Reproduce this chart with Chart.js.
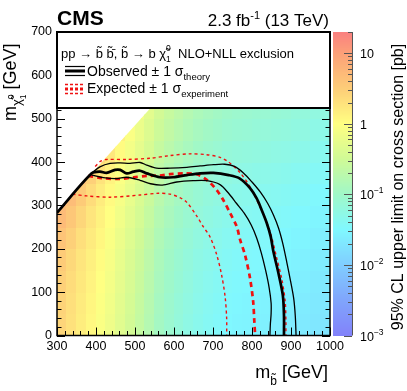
<!DOCTYPE html>
<html>
<head>
<meta charset="utf-8">
<script src="https://cdn.jsdelivr.net/npm/chart.js@4.4.0/dist/chart.umd.min.js"></script>
<style>
  html, body { margin: 0; padding: 0; background: #fff; }
  #wrap { width: 407px; height: 391px; }
</style>
</head>
<body>
<div id="wrap"><canvas id="limits" width="407" height="391"></canvas></div>
<script>
const FONT = '"Liberation Sans", Arial, Helvetica, sans-serif';

// bin edges of the limit map [GeV]
const mSbottomEdges = [300,325,350,375,400,425,450,475,500,525,550,575,600,625,650,675,700,725,750,775,800,825,850,875,900,925,950,975,1000];
const mLspEdges = [0,50,100,150,200,250,300,350,400,450,500,550];

// log10 of the 95% CL upper limit on the cross section [pb], one row per LSP bin (bottom first)
const limitLog10 = [
  [0.42,0.30,0.18,0.07,-0.05,-0.17,-0.32,-0.47,-0.62,-0.78,-0.95,-1.07,-1.17,-1.26,-1.34,-1.40,-1.45,-1.50,-1.53,-1.55,-1.57,-1.58,-1.60,-1.62,-1.65,-1.66,-1.70,-1.72],
  [0.44,0.32,0.20,0.09,-0.03,-0.15,-0.30,-0.45,-0.60,-0.76,-0.93,-1.05,-1.15,-1.24,-1.32,-1.38,-1.43,-1.48,-1.51,-1.53,-1.55,-1.56,-1.58,-1.60,-1.63,-1.64,-1.68,-1.70],
  [0.47,0.35,0.23,0.12,0.00,-0.12,-0.27,-0.42,-0.57,-0.73,-0.90,-1.02,-1.12,-1.21,-1.29,-1.35,-1.40,-1.45,-1.48,-1.50,-1.52,-1.53,-1.55,-1.57,-1.60,-1.61,-1.65,-1.67],
  [0.52,0.39,0.26,0.15,0.03,-0.09,-0.24,-0.39,-0.54,-0.70,-0.87,-0.99,-1.09,-1.18,-1.26,-1.32,-1.37,-1.42,-1.45,-1.47,-1.49,-1.50,-1.52,-1.54,-1.57,-1.58,-1.62,-1.64],
  [0.60,0.47,0.32,0.20,0.08,-0.05,-0.20,-0.35,-0.50,-0.66,-0.83,-0.95,-1.05,-1.14,-1.22,-1.28,-1.33,-1.38,-1.41,-1.43,-1.45,-1.46,-1.48,-1.50,-1.53,-1.54,-1.58,-1.60],
  [0.70,0.57,0.41,0.26,0.13,0.00,-0.15,-0.30,-0.45,-0.61,-0.78,-0.90,-1.00,-1.09,-1.17,-1.23,-1.28,-1.33,-1.36,-1.38,-1.40,-1.41,-1.43,-1.45,-1.48,-1.49,-1.53,-1.55],
  [0.75,0.68,0.52,0.35,0.19,0.05,-0.10,-0.25,-0.40,-0.56,-0.73,-0.85,-0.95,-1.04,-1.12,-1.18,-1.23,-1.28,-1.31,-1.33,-1.35,-1.36,-1.38,-1.40,-1.43,-1.44,-1.48,-1.50],
  [0.80,0.75,0.65,0.47,0.28,0.12,-0.04,-0.19,-0.34,-0.50,-0.67,-0.79,-0.89,-0.98,-1.06,-1.12,-1.17,-1.22,-1.25,-1.27,-1.29,-1.30,-1.32,-1.34,-1.37,-1.38,-1.42,-1.44],
  [0.80,0.80,0.70,0.58,0.40,0.23,0.04,-0.12,-0.27,-0.43,-0.60,-0.72,-0.82,-0.91,-0.99,-1.05,-1.10,-1.15,-1.18,-1.20,-1.22,-1.23,-1.25,-1.27,-1.30,-1.31,-1.35,-1.37],
  [0.80,0.80,0.70,0.62,0.50,0.34,0.14,-0.04,-0.20,-0.36,-0.53,-0.65,-0.75,-0.84,-0.92,-0.98,-1.03,-1.08,-1.11,-1.13,-1.15,-1.16,-1.18,-1.20,-1.23,-1.24,-1.28,-1.30],
  [0.80,0.80,0.70,0.62,0.55,0.44,0.24,0.05,-0.13,-0.30,-0.47,-0.59,-0.69,-0.78,-0.86,-0.92,-0.97,-1.02,-1.05,-1.07,-1.09,-1.10,-1.12,-1.14,-1.17,-1.18,-1.22,-1.24]
];
// map is only filled below m(LSP) = m(sbottom) - diagGap
const diagGap = 15;

// exclusion contours [m(sbottom), m(LSP)] in GeV
const observed = [[300,283],[389,374],[410,378],[427,375],[449,382],[462,382],[479,374],[496,378],[513,380],[530,374],[564,365],[598,365],[633,370],[667,374],[701,375],[740,370],[769,362],[795,340],[812,316],[825,289],[838,259],[848,228],[855,193],[867,147],[879,93],[882,47],[882,0]];
const observedUp = [[389,375],[410,389],[436,397],[462,398],[487,397],[513,399],[530,393],[555,386],[590,386],[633,388],[667,391],[701,394],[730,395],[755,390],[778,375],[800,354],[822,330],[840,305],[855,278],[868,248],[879,212],[889,170],[899,125],[907,85],[911,45],[913,0]];
const observedDown = [[389,370],[419,364],[453,362],[479,365],[513,358],[540,350],[570,347],[607,354],[649,357],[684,357],[718,348],[740,328],[760,305],[780,282],[798,255],[812,225],[824,190],[835,150],[844,110],[849,75],[849,50],[847,25],[846,0]];
const expected = [[380,368],[415,363],[462,361],[496,365],[530,368],[564,369],[590,372],[624,374],[658,372],[684,359],[709,336],[726,313],[744,282],[761,251],[769,222],[782,186],[795,132],[803,78],[806,32],[808,0]];
const expectedUp = [[398,390],[412,402],[427,406],[479,406],[540,409],[590,415],[641,419],[684,417],[718,411],[740,400],[769,376],[795,343],[816,305],[833,272],[850,228],[863,180],[876,132],[885,80],[887,32],[887,0]];
const expectedDown = [[340,326],[376,322],[436,319],[513,324],[560,328],[590,326],[615,318],[633,307],[658,276],[675,251],[692,228],[709,188],[722,140],[731,90],[735,40],[735,0]];

// colour bar decades
const zDecades = [0.001, 0.01, 0.1, 1, 10];
const zLabels = [['10','-3'],['10','-2'],['10','-1'],['1',''],['10','']];

// pastel rainbow palette, stops in log10(pb)
const palette = [
  [-3.0, [130,130,250]],
  [-2.5, [128,165,252]],
  [-2.0, [128,205,255]],
  [-1.5, [128,248,255]],
  [-1.0, [160,248,200]],
  [-0.5, [208,250,150]],
  [ 0.0, [255,255,130]],
  [ 0.5, [253,205,120]],
  [ 1.0, [252,160,120]],
  [ 1.3, [250,128,128]]
];
function colorFor(d) {
  if (d <= palette[0][0]) return `rgb(${palette[0][1]})`;
  for (let i = 1; i < palette.length; i++) {
    if (d <= palette[i][0]) {
      const [d0, c0] = palette[i - 1], [d1, c1] = palette[i];
      const f = (d - d0) / (d1 - d0);
      return `rgb(${c0.map((v, k) => Math.round(v + f * (c1[k] - v))).join(',')})`;
    }
  }
  return `rgb(${palette[palette.length - 1][1]})`;
}

// text with sub/superscripts: [text, size, dy, stackOnPrevious, bold]
function drawRich(ctx, x, y, parts, align) {
  let cx = 0, lastStart = 0, lastEnd = 0;
  const items = [];
  for (const p of parts) {
    const [t, size, dy = 0, stack = false, bold = false] = p;
    const font = `${bold ? 'bold ' : ''}${size}px ${FONT}`;
    ctx.font = font;
    const w = ctx.measureText(t).width;
    const start = stack ? lastStart : cx;
    items.push({ t, font, x: start, dy });
    cx = stack ? Math.max(lastEnd, start + w) : start + w;
    lastStart = start; lastEnd = cx;
  }
  const x0 = align === 'right' ? x - cx : align === 'center' ? x - cx / 2 : x;
  ctx.textAlign = 'left';
  ctx.textBaseline = 'alphabetic';
  for (const it of items) {
    ctx.font = it.font;
    ctx.fillText(it.t, x0 + it.x, y + it.dy);
  }
}

const heatmapPlugin = {
  id: 'heatmap',
  beforeDatasetsDraw(chart) {
    const { ctx, chartArea: a, scales: { x, y, z } } = chart;
    ctx.save();
    ctx.beginPath();
    ctx.rect(a.left, a.top, a.width, a.height);
    ctx.clip();
    ctx.beginPath();
    ctx.moveTo(x.getPixelForValue(300), y.getPixelForValue(300 - diagGap));
    ctx.lineTo(x.getPixelForValue(1000), y.getPixelForValue(1000 - diagGap));
    ctx.lineTo(x.getPixelForValue(1000), y.getPixelForValue(0));
    ctx.lineTo(x.getPixelForValue(300), y.getPixelForValue(0));
    ctx.closePath();
    ctx.clip();
    limitLog10.forEach((row, r) => {
      const yTop = Math.floor(y.getPixelForValue(mLspEdges[r + 1]));
      const yBot = Math.ceil(y.getPixelForValue(mLspEdges[r]));
      row.forEach((d, c) => {
        const xl = Math.floor(x.getPixelForValue(mSbottomEdges[c]));
        const xr = Math.ceil(x.getPixelForValue(mSbottomEdges[c + 1]));
        ctx.fillStyle = colorFor(d);
        ctx.fillRect(xl, yTop, xr - xl, yBot - yTop);
      });
    });
    ctx.restore();

    // colour bar
    const barL = 333, barR = 352;
    ctx.save();
    for (let py = Math.floor(z.top); py < Math.ceil(z.bottom); py++) {
      const v = z.getValueForPixel(py + 0.5);
      ctx.fillStyle = colorFor(Math.log10(v));
      ctx.fillRect(barL, py, barR - barL, 1);
    }
    ctx.strokeStyle = '#555';
    ctx.lineWidth = 1;
    ctx.beginPath();
    ctx.moveTo(barR + 0.5, z.top); ctx.lineTo(barR + 0.5, z.bottom);
    zDecades.forEach(dec => {
      for (let m = 1; m <= 9; m++) {
        const v = dec * m;
        if (v > z.max) break;
        const py = Math.round(z.getPixelForValue(v)) + 0.5;
        ctx.moveTo(barR, py); ctx.lineTo(barR - (m === 1 ? 8 : 4), py);
      }
    });
    ctx.stroke();
    ctx.fillStyle = '#000';
    zDecades.forEach((dec, i) => {
      const py = z.getPixelForValue(dec);
      const [base, exp] = zLabels[i];
      const parts = [[base, 12.5]];
      if (exp) parts.push([exp.replace('-', '\u2212'), 8.5, -6]);
      drawRich(ctx, 360, py + 5, parts, 'left');
    });
    ctx.restore();
  }
};

const framePlugin = {
  id: 'frame',
  afterDatasetsDraw(chart) {
    const { ctx, chartArea: a, scales: { x, y } } = chart;
    ctx.save();
    ctx.strokeStyle = '#000';
    ctx.lineWidth = 1;
    ctx.beginPath();
    for (let v = 300; v <= 1000; v += 20) {
      const px = Math.round(x.getPixelForValue(v)) + 0.5;
      const len = v % 100 === 0 ? 8 : 4.5;
      ctx.moveTo(px, a.bottom); ctx.lineTo(px, a.bottom - len);
      ctx.moveTo(px, a.top); ctx.lineTo(px, a.top + len);
    }
    for (let v = 0; v <= 700; v += 20) {
      const py = Math.round(y.getPixelForValue(v)) + 0.5;
      const len = v % 100 === 0 ? 8 : 4.5;
      ctx.moveTo(a.left, py); ctx.lineTo(a.left + len, py);
      ctx.moveTo(a.right, py); ctx.lineTo(a.right - len, py);
    }
    ctx.stroke();
    ctx.lineWidth = 1.5;
    ctx.strokeRect(a.left, a.top, a.right - a.left, a.bottom - a.top);
    ctx.restore();
  },
  afterDraw(chart) {
    const { ctx, chartArea: a } = chart;
    ctx.save();
    // legend box
    const lgBottom = 108;
    ctx.fillStyle = '#fff';
    ctx.fillRect(a.left, a.top, a.right - a.left, lgBottom - a.top);
    ctx.strokeStyle = '#000';
    ctx.lineWidth = 2;
    ctx.strokeRect(a.left, a.top, a.right - a.left, lgBottom - a.top);

    ctx.fillStyle = '#000';
    drawRich(ctx, 61, 58, [
      ['pp \u2192 b\u0303 b\u0303\u0304, b\u0303 \u2192 b \u03c7\u0303', 13],
      ['1', 8.5, 4], ['0', 8.5, -7, true],
      ['  NLO+NLL exclusion', 13]
    ], 'left');

    // observed symbol
    ctx.strokeStyle = '#000';
    ctx.setLineDash([]);
    [[66.5, 1.2], [71, 3], [75.5, 1.2]].forEach(([yy, w]) => {
      ctx.lineWidth = w;
      ctx.beginPath(); ctx.moveTo(65, yy); ctx.lineTo(85, yy); ctx.stroke();
    });
    drawRich(ctx, 87, 76, [['Observed \u00b1 1 \u03c3', 14], ['theory', 9.5, 4]], 'left');

    // expected symbol
    ctx.strokeStyle = '#f01010';
    [[84.5, 1.5, [3, 2]], [89, 3, [3, 2]], [93.5, 1.5, [3, 2]]].forEach(([yy, w, dash]) => {
      ctx.lineWidth = w;
      ctx.setLineDash(dash);
      ctx.beginPath(); ctx.moveTo(65, yy); ctx.lineTo(85, yy); ctx.stroke();
    });
    ctx.setLineDash([]);
    ctx.fillStyle = '#000';
    drawRich(ctx, 87, 93, [['Expected \u00b1 1 \u03c3', 14], ['experiment', 9.5, 4]], 'left');

    // titles
    drawRich(ctx, 57, 25, [['CMS', 21, 0, false, true]], 'left');
    drawRich(ctx, 329, 26, [['2.3 fb', 17], ['-1', 11, -7], [' (13 TeV)', 17]], 'right');

    // x axis title
    drawRich(ctx, 328, 378, [['m', 18], ['b\u0303', 12, 7], [' [GeV]', 18]], 'right');

    // y axis title
    ctx.save();
    ctx.translate(16, 121);
    ctx.rotate(-Math.PI / 2);
    drawRich(ctx, 0, 0, [['m', 18], ['\u03c7\u0303', 13, 5], ['1', 8.5, 10], ['0', 8.5, -2, true], [' [GeV]', 18]], 'left');
    ctx.restore();

    // colour bar title
    ctx.save();
    ctx.translate(403, 187);
    ctx.rotate(-Math.PI / 2);
    drawRich(ctx, 0, 0, [['95% CL upper limit on cross section [pb]', 16]], 'center');
    ctx.restore();
    ctx.restore();
  }
};

const toXY = pts => pts.map(([x, y]) => ({ x, y }));
const lineSet = (data, color, width, dash) => ({
  data: toXY(data),
  showLine: true,
  borderColor: color,
  borderWidth: width,
  borderDash: dash,
  pointRadius: 0,
  tension: 0.3,
  fill: false
});

new Chart(document.getElementById('limits'), {
  type: 'scatter',
  data: {
    datasets: [
      lineSet(observed, '#000', 2.7, []),
      lineSet(observedUp, '#000', 1.3, []),
      lineSet(observedDown, '#000', 1.3, []),
      lineSet(expected, '#f01010', 2.7, [5, 4]),
      lineSet(expectedUp, '#f01010', 1.4, [3, 3]),
      lineSet(expectedDown, '#f01010', 1.4, [3, 3])
    ]
  },
  options: {
    responsive: false,
    animation: false,
    layout: { padding: { top: 32, left: 0, right: 0, bottom: 0 } },
    plugins: { legend: { display: false }, tooltip: { enabled: false } },
    scales: {
      x: {
        type: 'linear', position: 'bottom', min: 300, max: 1000,
        grid: { display: false, drawTicks: false }, border: { display: false },
        ticks: { stepSize: 100, color: '#000', padding: 4, maxRotation: 0, autoSkip: false,
                 font: { family: FONT, size: 12.5 }, callback: v => String(v) },
        afterFit(s) { s.height = 55.5; }
      },
      y: {
        type: 'linear', position: 'left', min: 0, max: 700,
        grid: { display: false, drawTicks: false }, border: { display: false },
        ticks: { stepSize: 100, color: '#000', padding: 5, autoSkip: false,
                 font: { family: FONT, size: 12.5 }, callback: v => String(v) },
        afterFit(s) { s.width = 57; }
      },
      z: {
        type: 'logarithmic', position: 'right', min: 0.001, max: 20,
        grid: { display: false, drawTicks: false }, border: { display: false },
        ticks: { display: false },
        afterFit(s) { s.width = 77; }
      }
    }
  },
  plugins: [heatmapPlugin, framePlugin]
});
</script>
</body>
</html>
